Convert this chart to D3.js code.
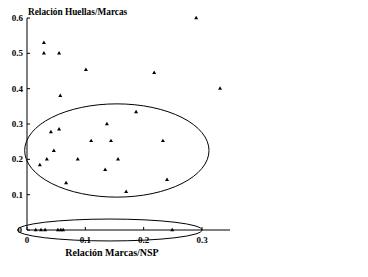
<!DOCTYPE html>
<html>
<head>
<meta charset="utf-8">
<script src="https://cdn.jsdelivr.net/npm/d3@7"></script>
<style>
  body { margin: 0; background: #fff; }
</style>
</head>
<body>
<div id="container"></div>
<script>
// Relación Marcas/NSP (x) vs Relación Huellas/Marcas (y)
var marcasNSP = [0.029, 0.029, 0.055, 0.101, 0.057, 0.29, 0.331, 0.218, 0.187, 0.137,
                 0.041, 0.055, 0.110, 0.144, 0.233, 0.046, 0.034, 0.022, 0.087, 0.156,
                 0.134, 0.240, 0.170, 0.067,
                 0.015, 0.024, 0.031, 0.053, 0.058, 0.062, 0.249]
var huellasMarcas = [0.53, 0.50, 0.50, 0.453, 0.38, 0.60, 0.40, 0.445, 0.334, 0.30,
                     0.277, 0.285, 0.252, 0.252, 0.252, 0.224, 0.20, 0.184, 0.20, 0.20,
                     0.17, 0.142, 0.108, 0.133,
                     0, 0, 0, 0, 0, 0, 0]
var xTicks = [0, 0.1, 0.2, 0.3]
var yTicks = [0, 0.1, 0.2, 0.3, 0.4, 0.5, 0.6]
// grupos marcados con elipses: centro x, centro y, radio x, radio y
var groupCx = [0.154, 0.142]
var groupCy = [0.225, 0.0]
var groupRx = [0.158, 0.158]
var groupRy = [0.132, 0.031]

var serif = '"Liberation Serif", "Times New Roman", Times, "DejaVu Serif", serif'

var width = 368, height = 277
var svg = d3.select('#container').append('svg')
  .attr('width', width).attr('height', height)

var x = d3.scaleLinear().domain([0, 0.348]).range([27, 230])
var y = d3.scaleLinear().domain([0, 0.6]).range([230, 18])

// axis lines
svg.append('line').attr('x1', x(0)).attr('x2', x(0.348))
  .attr('y1', y(0)).attr('y2', y(0)).attr('stroke', '#000')
svg.append('line').attr('x1', x(0)).attr('x2', x(0))
  .attr('y1', y(0)).attr('y2', y(0.6)).attr('stroke', '#000')

// x ticks
svg.selectAll('.xt').data(xTicks).enter().append('line')
  .attr('x1', d => x(d)).attr('x2', d => x(d))
  .attr('y1', y(0)).attr('y2', y(0) - 3).attr('stroke', '#000')
svg.selectAll('.xl').data(xTicks).enter().append('text')
  .attr('x', d => x(d)).attr('y', y(0) + 13)
  .attr('text-anchor', 'middle')
  .style('font-family', serif).style('font-weight', 'bold').style('font-size', '9px')
  .text(d => d == 0 ? '0' : d.toFixed(1))

// y ticks
svg.selectAll('.yt').data(yTicks).enter().append('line')
  .attr('x1', x(0)).attr('x2', x(0) + 3)
  .attr('y1', d => y(d)).attr('y2', d => y(d)).attr('stroke', '#000')
svg.selectAll('.yl').data(yTicks).enter().append('text')
  .attr('x', d => d == 0 ? 22 : 23).attr('y', d => y(d) + 3)
  .attr('text-anchor', 'end')
  .style('font-family', serif).style('font-weight', 'bold').style('font-size', '9px')
  .text(d => d == 0 ? '0' : d.toFixed(1))

// ellipses
for (var k = 0; k < groupCx.length; k++) {
  svg.append('ellipse')
    .attr('cx', x(groupCx[k])).attr('cy', y(groupCy[k]))
    .attr('rx', x(groupRx[k]) - x(0)).attr('ry', y(0) - y(groupRy[k]))
    .attr('fill', 'none').attr('stroke', '#000').attr('stroke-width', 1)
}

// points
var tri = d3.symbol().type(d3.symbolTriangle).size(7)
svg.selectAll('.pt').data(marcasNSP).enter().append('path')
  .attr('d', tri)
  .attr('transform', (d, i) => 'translate(' + x(d) + ',' + y(huellasMarcas[i]) + ')')
  .attr('fill', '#000')

// axis titles
svg.append('text').attr('x', 28).attr('y', 15)
  .style('font-family', serif).style('font-weight', 'bold').style('font-size', '9.3px')
  .text('Relación Huellas/Marcas')
svg.append('text').attr('x', 112).attr('y', 256).attr('text-anchor', 'middle')
  .style('font-family', serif).style('font-weight', 'bold').style('font-size', '10px')
  .text('Relación Marcas/NSP')
</script>
</body>
</html>
